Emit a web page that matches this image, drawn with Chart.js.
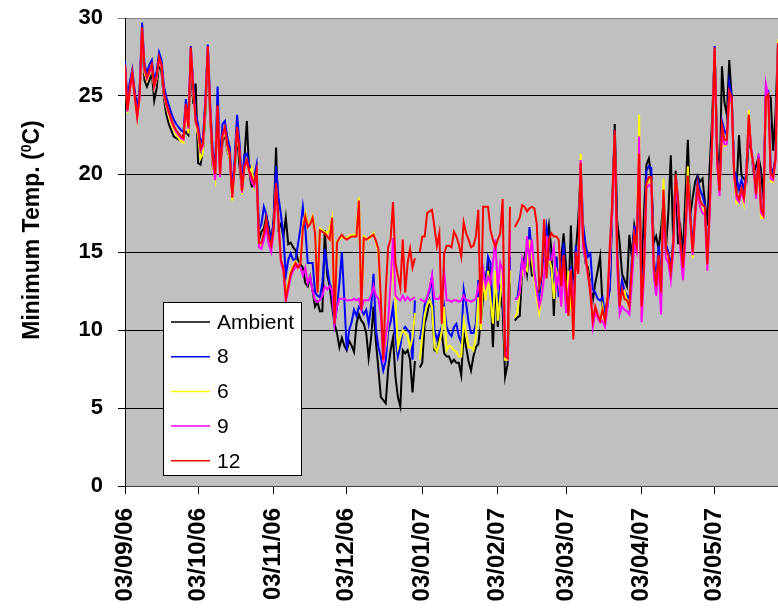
<!DOCTYPE html>
<html>
<head>
<meta charset="utf-8">
<script src="https://cdn.jsdelivr.net/npm/chart.js@4.4.0/dist/chart.umd.min.js"></script>
<style>
  body { margin: 0; background: #fff; }
</style>
</head>
<body>
<canvas id="tempChart" width="778" height="610"></canvas>
<script>
// x ticks: day number from 03/09/06 and the label shown there
var tickDays = [0, 30, 61, 91, 122, 153, 181, 212, 242];
var tickLabels = ['03/09/06', '03/10/06', '03/11/06', '03/12/06', '03/01/07',
                  '03/02/07', '03/03/07', '03/04/07', '03/05/07'];
var yTicks = [0, 5, 10, 15, 20, 25, 30];

// daily minimum temperatures (deg C), one value per day, null = no reading
var ambient = [
  26.8, 24.5, 25.8, 26.0, 25.2, 24.0, 25.3, 29.0, 26.0, 25.6,
  26.0, 26.5, 24.7, 25.5, 27.2, 26.5, 24.8, 23.8, 23.2, 22.8,
  22.4, 22.3, 22.2, 22.3, 22.5, 22.7, 22.5, 27.5, 24.5, 25.8,
  20.7, 20.6, 21.5, 24.0, 27.5, 23.5, 20.5, 20.0, 24.0, 20.2,
  22.0, 22.6, 21.5, 21.0, 18.8, 20.3, 22.5, 20.5, 19.0, 21.0,
  23.4, 20.0, 19.2, 19.3, 19.8, 15.8, 16.3, 16.5, 17.3, 16.6,
  15.6, 17.0, 21.7, 16.5, 16.8, 16.0, 17.2, 15.5, 15.6, 15.3,
  15.1, 14.5, 14.2, 14.0, 13.0, 12.8, 13.4, 12.5, 11.5, 11.8,
  11.2, 11.2, 16.4, 13.5, 12.8, 11.5, 10.4, 9.8, 8.9, 9.5,
  9.0, 8.7, 9.3, 9.0, 8.6, 10.4, 11.0, 10.6, 10.4, 9.8,
  8.2, 9.5, 11.5, 9.2, 7.5, 5.7, 5.5, 5.3, 7.5, 8.7,
  9.5, 7.0, 5.7, 5.1, 8.7, 8.5, 8.7, 8.1, 6.0, 8.0,
  null, 7.6, 7.9, 10.4, 11.0, 11.9, 11.4, 8.7, 8.6, 9.6,
  9.8, 8.5, 8.3, 8.3, 7.9, 8.1, 7.9, 7.9, 7.1, 9.8,
  8.9, 8.0, 7.4, 8.3, 8.9, 9.1, 10.5, 12.1, 13.3, 14.3,
  12.6, 8.9, 13.0, 10.2, 12.4, 11.3, 7.0, 7.8, 13.0, null,
  10.6, 10.8, 10.9, 13.9, 14.7, 13.6, 15.3, 13.5, 13.5, 12.3,
  12.5, 12.7, 14.4, 15.5, 16.7, 15.1, 10.9, 14.7, 12.7, 14.5,
  16.2, 14.1, 11.9, 16.7, 11.9, 15.0, 17.0, 20.2, 15.8, 14.3,
  14.0, 12.8, 11.9, 13.0, 13.8, 14.7, 11.5, 10.9, 12.0, 12.6,
  17.9, 23.2, 17.0, 15.6, 13.6, 13.2, 12.8, 16.1, 14.7, 16.7,
  15.8, 19.5, 13.6, 17.5, 20.6, 21.0, 19.8, 15.6, 16.0, 15.2,
  16.5, 18.3, 15.2, 17.5, 21.2, 15.6, 20.2, 15.5, 16.5, 14.8,
  18.6, 22.2, 17.4, 18.5, 19.5, 19.9, 19.5, 19.7, 18.2, 16.7,
  20.6, 23.6, 27.9, 22.0, 18.9, 26.9, 24.6, 23.8, 27.3, 24.9,
  20.0, 19.1, 22.5, 19.9, 19.7, 19.5, 22.3, 21.5, 20.1, 20.5,
  21.1, 20.3, 18.4, 24.9, 25.0, 24.9, 21.5, 23.9, 28.4
];
var depth8 = [
  27.2, 24.6, 25.9, 26.7, 25.3, 24.0, 25.4, 29.7, 27.0, 26.5,
  27.0, 27.3, 26.0, 26.6, 27.8, 27.3, 25.6, 24.9, 24.4, 23.9,
  23.5, 23.2, 23.0, 22.8, 22.7, 24.8, 23.3, 28.2, 25.8, 23.8,
  23.2, 22.0, 22.3, 24.8, 28.3, 24.4, 21.5, 20.4, 25.6, 20.5,
  23.2, 23.4, 22.3, 21.7, 18.9, 21.0, 23.8, 22.0, 19.3, 21.2,
  21.3, 20.6, 20.2, 19.8, 20.6, 16.4, 16.8, 17.9, 17.4, 16.4,
  15.8, 17.0, 20.5, 18.5, 17.4, 16.0, 13.5, 14.5, 14.9, 14.5,
  14.5, 15.5, 16.5, 17.9, 16.5, 14.3, 14.3, 14.3, 12.4, 12.2,
  12.1, 13.0, 15.2, 14.0, 13.0, 12.5, 10.4, 11.5, 13.0, 15.0,
  12.0, 8.7, 10.0, 10.5, 11.3, 10.9, 11.5, 11.3, 11.0, 11.3,
  10.4, 11.5, 13.6, 10.0, 8.9, 8.3, 7.4, 8.0, 10.0, 10.5,
  11.5, 9.5, 8.3, 9.0, 10.0, 10.2, 10.0, 9.8, 8.1, 11.9,
  null, 9.4, 10.2, 11.6, 12.1, 12.5, 13.4, 10.0, 9.4, 9.8,
  10.2, 11.5, 10.2, 9.8, 9.6, 10.2, 10.4, 9.6, 9.2, 12.6,
  11.7, 10.5, 9.8, 9.8, 10.4, 13.2, 10.8, 13.8, 12.8, 14.7,
  14.3, 10.8, 13.2, 11.7, 12.8, 12.5, 8.9, 8.3, 14.7, null,
  12.0, 12.0, 13.2, 14.5, 14.5, 14.2, 16.6, 15.0, 13.6, 12.5,
  11.9, 12.8, 15.0, 16.6, 15.2, 13.5, 12.8, 14.7, 12.1, 13.5,
  15.6, 12.1, 12.5, 14.1, 11.1, 15.4, 14.0, 20.9, 16.8, 15.5,
  14.7, 14.9, 12.6, 12.4, 12.0, 11.9, 12.1, 11.0, 11.5, 12.8,
  18.3, 22.8, 15.2, 12.0, 13.2, 12.5, 12.2, 12.0, 14.5, 16.7,
  15.5, 21.5, 11.8, 14.5, 20.2, 20.5, 20.4, 14.6, 13.2, 15.4,
  13.0, 19.0, 15.5, 15.0, 14.0, 15.8, 20.0, 18.3, 15.5, 14.4,
  16.5, 20.0, 17.5, 15.3, 17.6, 19.6, 19.0, 18.6, 18.0, 14.5,
  18.3, 22.5, 28.2, 21.0, 19.0, 23.4, 22.8, 22.5, 25.9, 25.0,
  20.2, 19.8, 19.0, 19.6, 19.0, 20.2, 23.8, 21.5, 20.5, 19.0,
  21.1, 18.0, 17.6, 25.2, 25.3, 20.5, 20.0, 21.2, 28.5
];
var depth6 = [
  26.8, 23.9, 25.3, 26.3, 24.8, 23.5, 24.8, 29.2, 26.5, 26.0,
  26.4, 26.8, 25.5, 26.1, 27.3, 26.8, 25.0, 24.3, 23.7, 23.2,
  22.8, 22.5, 22.3, 22.1, 22.0, 24.3, 22.6, 27.9, 25.2, 23.2,
  22.5, 21.0, 21.3, 24.2, 28.0, 23.7, 20.6, 19.7, 24.2, 19.8,
  22.3, 22.7, 21.6, 21.0, 18.3, 20.2, 22.8, 21.2, 18.7, 20.3,
  20.7, 20.0, 20.4, 19.2, 20.0, 15.4, 15.5, 16.0, 16.9, 15.8,
  15.3, 16.3, 19.2, 16.8, 14.3, 13.8, 12.1, 13.0, 13.8, 14.1,
  14.4, 14.1, 14.3, 16.7, 17.5, 16.8, 16.9, 17.3, 16.3, 12.5,
  16.5, 16.4, 16.3, 16.2, 16.5, 17.2, 10.5, 15.7, 15.8, 16.0,
  15.9, 15.9, 16.0, 16.1, 16.1, 16.1, 18.5, 11.4, 16.0, 15.9,
  15.8, 16.0, 16.2, 15.6, 15.0, 11.5, 8.3, 9.0, 10.5, 12.5,
  14.5, 12.0, 8.9, 9.5, 10.0, 9.8, 9.6, 8.9, 9.5, 11.1,
  null, 8.1, 9.6, 11.0, 11.6, 11.9, 11.5, 8.9, 8.6, 9.2,
  9.9, 11.5, 8.7, 9.0, 8.9, 8.7, 8.6, 8.3, 8.3, 10.6,
  9.8, 8.9, 8.9, 8.7, 9.6, 12.1, 10.0, 13.4, 11.9, 13.8,
  12.0, 10.4, 13.8, 10.6, 12.1, 13.8, 8.1, 8.1, 13.8, null,
  10.8, 11.1, 12.5, 13.8, 14.0, 13.8, 15.8, 14.5, 13.3, 12.0,
  11.1, 12.3, 13.6, 16.0, 14.6, 14.0, 12.0, 13.8, 13.2, 11.5,
  14.0, 11.4, 13.8, 11.5, 10.8, 14.6, 13.6, 21.3, 15.5, 14.6,
  13.5, 12.8, 10.4, 11.2, 10.8, 10.6, 11.5, 10.4, 11.8, 14.5,
  18.0, 22.5, 14.5, 11.8, 12.3, 12.5, 11.8, 11.5, 13.8, 16.0,
  15.2, 23.8, 11.0, 13.8, 19.2, 19.6, 19.6, 14.0, 12.6, 14.6,
  12.2, 19.7, 15.0, 14.5, 13.5, 15.3, 19.8, 18.0, 15.3, 13.8,
  16.0, 20.5, 17.0, 14.6, 17.3, 19.1, 18.0, 17.7, 17.6, 14.0,
  17.8, 22.3, 28.0, 20.8, 18.7, 22.4, 21.8, 21.9, 25.1, 24.7,
  19.7, 18.1, 18.2, 18.9, 18.1, 19.8, 24.1, 21.3, 20.4, 18.5,
  20.8, 17.2, 17.2, 24.7, 24.9, 19.5, 19.5, 20.8, 28.6
];
var depth9 = [
  26.9, 24.0, 25.4, 26.4, 24.9, 23.6, 24.9, 29.3, 26.7, 26.1,
  26.5, 26.9, 25.6, 26.2, 27.4, 26.9, 25.1, 24.4, 23.9, 23.4,
  23.0, 22.7, 22.5, 22.3, 22.2, 24.4, 22.9, 28.0, 25.4, 23.3,
  22.8, 21.5, 21.8, 24.4, 28.1, 23.9, 20.9, 19.6, 24.3, 19.8,
  22.4, 22.9, 21.8, 21.2, 18.5, 20.4, 22.9, 21.4, 18.8, 20.4,
  20.8, 20.1, 19.5, 19.2, 20.0, 15.3, 15.2, 15.8, 16.6, 15.5,
  15.0, 16.3, 19.2, 16.8, 14.3, 13.8, 11.8, 12.6, 13.4, 13.8,
  14.0, 14.2, 14.0, 13.5, 14.0, 13.0, 13.4, 12.5, 11.9, 11.8,
  11.9, 12.2, 12.8, 12.6, 12.8, 12.5, 10.4, 11.5, 12.0, 12.0,
  12.0, 11.9, 11.9, 11.9, 12.0, 11.9, 12.0, 11.3, 11.9, 11.9,
  11.9, 12.2, 12.8, 12.2, 12.0, 11.0, 7.9, 9.5, 10.6, 13.0,
  15.9, 12.2, 12.0, 11.9, 12.2, 11.9, 12.1, 11.9, 12.0, 12.1,
  null, 12.0, 11.9, 11.8, 12.1, 12.7, 13.5, 12.0, 12.0, 12.0,
  12.5, 13.7, 11.9, 11.9, 11.8, 11.9, 11.9, 11.8, 11.9, 12.2,
  11.9, 11.9, 11.8, 11.9, 12.0, 12.8, 12.1, 13.8, 12.8, 13.4,
  13.0, 14.3, 15.8, 12.6, 14.3, 13.9, 8.7, 8.3, 16.4, null,
  12.0, 12.0, 12.4, 14.5, 13.7, 16.0, 14.5, 15.8, 13.7, 12.5,
  11.5, 12.1, 13.4, 16.0, 14.5, 14.5, 15.3, 12.8, 13.6, 11.5,
  14.1, 11.1, 12.5, 13.9, 11.1, 14.5, 13.6, 20.9, 15.3, 14.5,
  13.5, 12.8, 10.2, 11.1, 10.8, 10.5, 10.6, 10.2, 11.5, 14.8,
  17.8, 22.3, 14.0, 11.0, 11.5, 11.3, 11.2, 11.0, 13.0, 15.5,
  15.0, 22.4, 10.5, 13.5, 19.1, 19.3, 19.2, 13.5, 12.2, 14.2,
  11.0, 18.5, 14.6, 14.3, 13.2, 15.0, 19.5, 17.8, 15.0, 13.2,
  15.8, 19.5, 16.9, 14.8, 17.2, 19.0, 17.9, 17.5, 17.4, 13.8,
  17.6, 22.3, 27.9, 20.7, 18.6, 22.8, 21.9, 21.9, 25.2, 24.6,
  19.8, 18.4, 18.2, 18.8, 18.3, 19.9, 23.5, 21.6, 20.3, 18.4,
  21.3, 17.5, 17.3, 25.8, 25.0, 19.7, 19.6, 20.8, 28.3
];
var depth12 = [
  27.0, 24.1, 25.5, 26.5, 25.0, 23.7, 25.0, 29.4, 26.8, 26.2,
  26.6, 27.0, 25.7, 26.3, 27.5, 27.0, 25.2, 24.5, 24.0, 23.5,
  23.1, 22.8, 22.6, 22.4, 22.3, 24.5, 23.0, 28.1, 25.5, 23.4,
  22.9, 21.6, 22.0, 24.5, 28.2, 24.0, 21.1, 20.0, 24.4, 20.0,
  22.5, 23.0, 21.9, 21.3, 18.5, 20.5, 23.0, 21.5, 18.9, 20.5,
  20.9, 20.2, 19.8, 19.4, 20.2, 15.6, 15.6, 16.2, 17.1, 16.0,
  15.4, 16.5, 19.4, 17.0, 14.5, 14.0, 12.0, 12.8, 13.6, 14.0,
  14.3, 14.0, 14.2, 16.5, 17.3, 16.6, 16.8, 17.2, 16.2, 12.4,
  16.4, 16.3, 16.2, 16.0, 15.8, 17.2, 10.4, 15.6, 15.9, 16.1,
  15.9, 15.8, 15.9, 16.0, 16.0, 16.0, 18.3, 11.3, 15.9, 15.8,
  15.9, 16.0, 16.1, 15.7, 15.2, 12.0, 8.1, 12.5, 15.3, 15.8,
  18.2, 14.3, 13.5, 12.7, 15.8, 12.4, 14.3, 15.2, 14.0, 14.6,
  null, 15.0, 16.0, 16.0, 17.5, 17.6, 17.7, 16.6, 15.4, 16.2,
  10.4, 14.9, 15.4, 15.4, 15.3, 16.3, 16.0, 15.5, 14.7, 16.9,
  16.2, 15.8, 15.3, 15.4, 16.0, 17.7, 10.4, 17.9, 17.9, 17.9,
  16.4, 15.8, 15.3, 15.8, 16.2, 18.4, 8.3, 8.2, 17.9, null,
  16.6, 16.9, 17.2, 18.0, 17.9, 17.6, 17.8, 17.9, 17.8, 16.8,
  12.8, 13.5, 17.1, 13.3, 15.8, 16.2, 16.0, 16.0, 15.8, 12.8,
  14.8, 12.8, 10.9, 13.8, 9.4, 15.0, 13.6, 20.7, 15.8, 14.8,
  13.6, 12.3, 10.6, 11.5, 11.0, 10.6, 11.3, 10.6, 12.0, 15.5,
  18.3, 22.8, 15.0, 11.5, 12.6, 12.0, 11.9, 11.5, 14.1, 16.2,
  15.4, 21.3, 11.5, 14.1, 19.4, 19.8, 19.8, 14.1, 12.8, 14.8,
  12.4, 19.0, 15.2, 14.8, 13.7, 15.5, 20.0, 18.3, 15.5, 14.0,
  16.2, 19.9, 17.3, 15.0, 17.5, 19.3, 18.3, 18.0, 17.9, 14.2,
  18.0, 22.5, 28.1, 21.0, 18.9, 23.1, 22.2, 22.2, 25.3, 24.9,
  20.0, 18.7, 18.4, 19.1, 18.5, 20.0, 23.8, 21.5, 20.6, 18.7,
  21.0, 17.8, 17.4, 24.9, 25.1, 20.0, 19.8, 21.0, 28.4
];

var days = [];
for (var i = 0; i < depth12.length; i++) {
    days.push(i);
}

var fontFamily = '"Liberation Sans", Arial, sans-serif';

// grey plot area like the spreadsheet chart
var plotBackground = {
    id: 'plotBackground',
    beforeDraw: function (chart) {
        var a = chart.chartArea;
        var ctx = chart.ctx;
        ctx.save();
        ctx.fillStyle = '#c0c0c0';
        ctx.fillRect(a.left, a.top, a.right - a.left, a.bottom - a.top);
        ctx.restore();
    }
};

// y title with the raised 0 in (0C)
var yTitle = {
    id: 'yTitle',
    afterDraw: function (chart) {
        var ctx = chart.ctx;
        var big = 'bold 23px ' + fontFamily;
        var small = 'bold 14px ' + fontFamily;
        var parts = [['Minimum Temp. (', big, 0], ['0', small, -8], ['C)', big, 0]];
        ctx.save();
        ctx.translate(39, 230);
        ctx.rotate(-Math.PI / 2);
        var total = 0;
        parts.forEach(function (p) {
            ctx.font = p[1];
            total += ctx.measureText(p[0]).width;
        });
        var x = -total / 2;
        ctx.fillStyle = '#000';
        ctx.textBaseline = 'alphabetic';
        parts.forEach(function (p) {
            ctx.font = p[1];
            ctx.fillText(p[0], x, p[2]);
            x += ctx.measureText(p[0]).width;
        });
        ctx.restore();
    }
};

// boxed legend sitting inside the plot, over the lines
var boxLegend = {
    id: 'boxLegend',
    afterDraw: function (chart) {
        var ctx = chart.ctx;
        ctx.save();
        ctx.fillStyle = '#fff';
        ctx.fillRect(163.5, 302.5, 138, 173);
        ctx.strokeStyle = '#000';
        ctx.lineWidth = 1;
        ctx.strokeRect(163.5, 302.5, 138, 173);
        ctx.font = '21px ' + fontFamily;
        ctx.textBaseline = 'middle';
        chart.data.datasets.forEach(function (ds, i) {
            var y = 322 + i * 34.7;
            ctx.strokeStyle = ds.borderColor;
            ctx.lineWidth = 1.5;
            ctx.beginPath();
            ctx.moveTo(171, y);
            ctx.lineTo(210, y);
            ctx.stroke();
            ctx.fillStyle = '#000';
            ctx.fillText(ds.label, 217, y + 1);
        });
        ctx.restore();
    }
};

var ctx = document.getElementById('tempChart').getContext('2d');
var tempChart = new Chart(ctx, {
    type: 'line',
    data: {
        labels: days,
        datasets: [
            { label: 'Ambient', data: ambient, borderColor: '#000000', order: 4 },
            { label: '8', data: depth8, borderColor: '#0000ff', order: 3 },
            { label: '6', data: depth6, borderColor: '#ffff00', order: 2 },
            { label: '9', data: depth9, borderColor: '#ff00ff', order: 1 },
            { label: '12', data: depth12, borderColor: '#ff0000', order: 0 }
        ]
    },
    options: {
        responsive: false,
        animation: false,
        events: [],
        layout: { padding: { top: 18, right: 0, bottom: 0, left: 0 } },
        elements: {
            point: { radius: 0 },
            line: { borderWidth: 2, tension: 0, fill: false }
        },
        plugins: {
            legend: { display: false },
            tooltip: { enabled: false }
        },
        scales: {
            x: {
                type: 'linear',
                min: 0,
                max: days.length - 1,
                afterBuildTicks: function (axis) {
                    axis.ticks = tickDays.map(function (d) { return { value: d }; });
                },
                afterFit: function (axis) {
                    axis.height = 124;
                },
                ticks: {
                    autoSkip: false,
                    minRotation: 90,
                    maxRotation: 90,
                    padding: 14,
                    color: '#000',
                    font: { family: fontFamily, size: 24, weight: 'bold' },
                    callback: function (v) {
                        var k = tickDays.indexOf(v);
                        return k < 0 ? '' : tickLabels[k];
                    }
                },
                grid: { drawOnChartArea: false, tickLength: 8, color: '#000' },
                border: { color: '#404040', width: 1 }
            },
            y: {
                min: yTicks[0],
                max: yTicks[yTicks.length - 1],
                afterFit: function (axis) {
                    axis.width = 125;
                    axis.paddingTop = 0;
                    axis.paddingBottom = 0;
                },
                ticks: {
                    stepSize: 5,
                    padding: 15,
                    color: '#000',
                    font: { family: fontFamily, size: 22, weight: 'bold' }
                },
                grid: {
                    tickLength: 7,
                    color: function (c) {
                        return c.tick && c.tick.value === 30 ? '#808080' : '#000';
                    }
                },
                border: { color: '#000', width: 1 }
            }
        }
    },
    plugins: [plotBackground, yTitle, boxLegend]
});
</script>
</body>
</html>
